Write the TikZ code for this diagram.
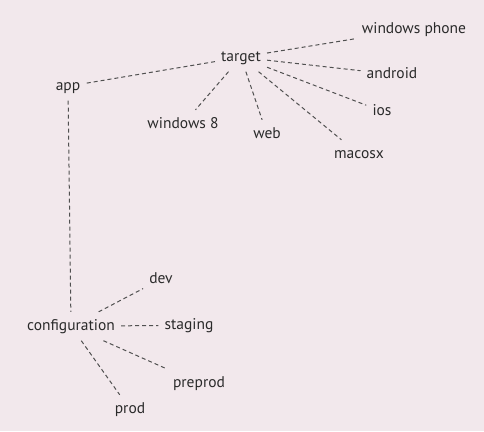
\documentclass[tikz,border=0pt]{standalone}
\usepackage{fontspec}
\setmainfont{PT Sans}
\definecolor{bg}{HTML}{F2E8EC}
\definecolor{txt}{HTML}{2A2A2A}
\definecolor{ln}{HTML}{505050}
\begin{document}
\begin{tikzpicture}[x=1pt,y=-1pt,
  lbl/.style={anchor=base,text=txt,font=\fontsize{15.5}{18}\selectfont,
    text height=11pt,text depth=3.5pt,inner xsep=6pt,inner ysep=7pt},
  link/.style={draw=ln,line width=1pt,dash pattern=on 4pt off 3pt}]
\path[use as bounding box,fill=bg] (0,0) rectangle (484,431);
\node[lbl] (target) at (241,61) {target};
\node[lbl] (wp) at (414,33) {windows phone};
\node[lbl] (android) at (392,78) {android};
\node[lbl] (ios) at (382,115) {ios};
\node[lbl] (macosx) at (359,158) {macosx};
\node[lbl] (web) at (267,138) {web};
\node[lbl] (w8) at (183,128) {windows 8};
\node[lbl] (app) at (68,90) {app};
\node[lbl] (conf) at (71,330) {configuration};
\node[lbl] (dev) at (161,283) {dev};
\node[lbl] (staging) at (189,329) {staging};
\node[lbl] (preprod) at (199,387) {preprod};
\node[lbl] (prod) at (130,413) {prod};
\draw[link] (target) -- (wp);
\draw[link] (target) -- (android);
\draw[link] (target) -- (ios);
\draw[link] (target) -- (macosx);
\draw[link] (target) -- (web);
\draw[link] (target) -- (w8);
\draw[link] (target) -- (app);
\draw[link] (app) -- (conf);
\draw[link] (conf) -- (dev);
\draw[link] (conf) -- (staging);
\draw[link] (conf) -- (preprod);
\draw[link] (conf) -- (prod);
\end{tikzpicture}
\end{document}
